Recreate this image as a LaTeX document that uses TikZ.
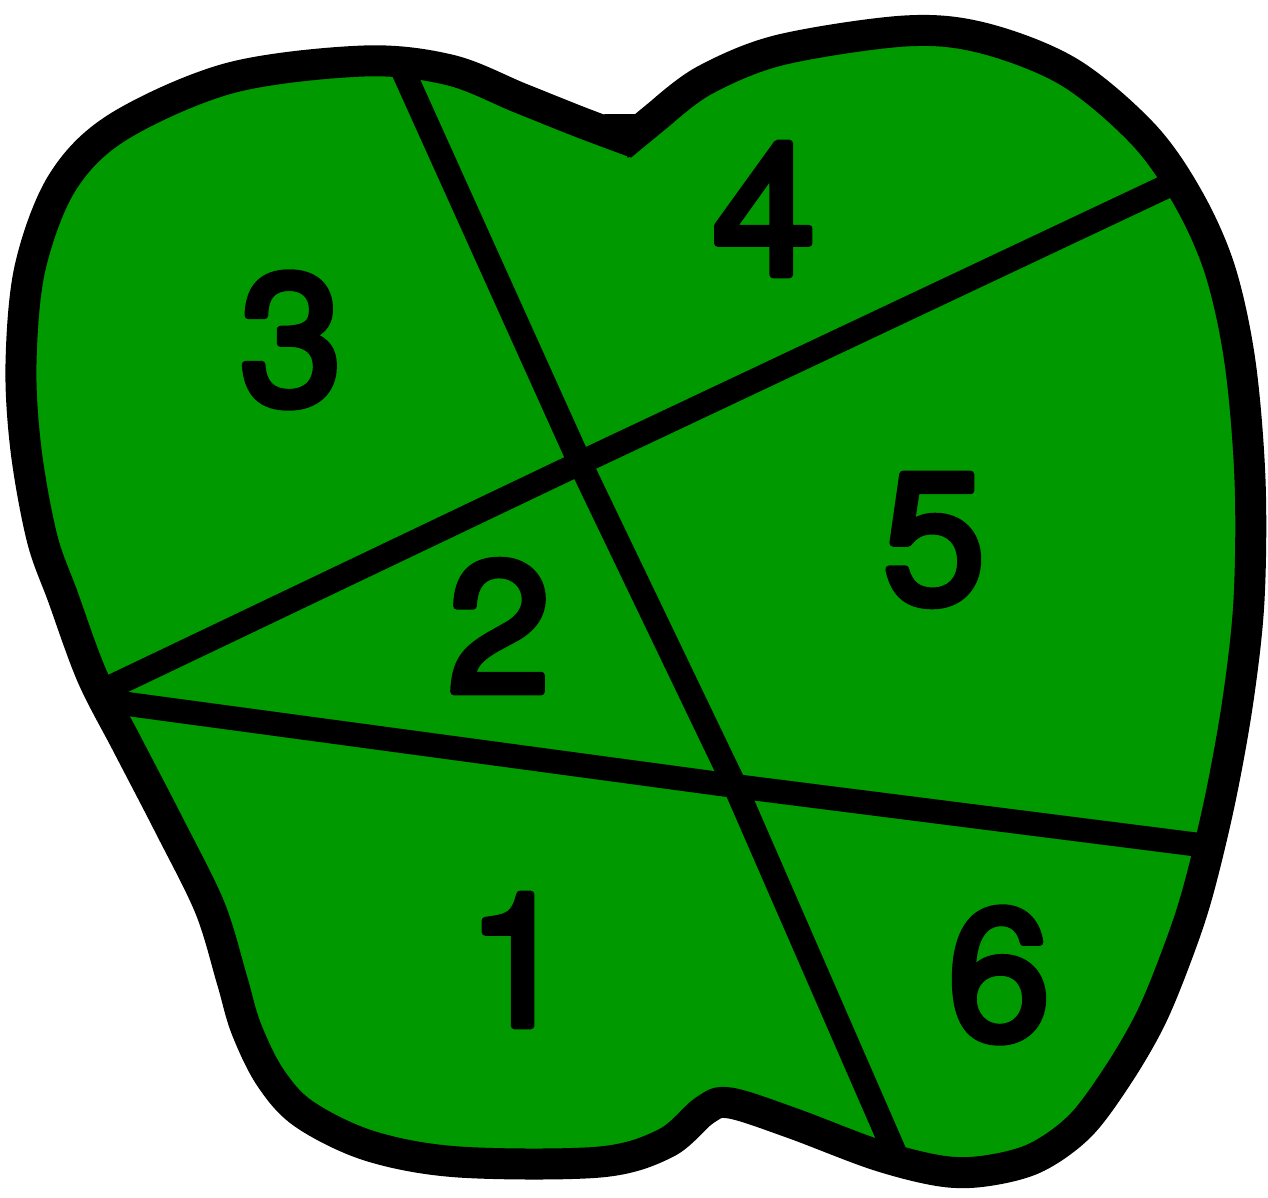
\documentclass[tikz,border=0pt]{standalone}
\usepackage{fontspec}
\setmainfont{TeX Gyre Heros}
\newfontfamily\numfont[FakeBold=4]{TeX Gyre Heros}
\definecolor{leaf}{RGB}{0,153,0}
\begin{document}
\begin{tikzpicture}[x=1pt,y=-1pt,
  num/.style={font=\numfont\fontsize{185}{185}\selectfont, inner sep=0pt, text=black, line join=round, line cap=round},
  divider/.style={line width=24pt, black, line join=round},
  rim/.style={line width=31pt, black, line join=miter}]
\useasboundingbox (0,0) rectangle (1268,1197);
\def\apple{(628,140) -- plot[smooth, tension=0.55] coordinates {
 (662,112) (705,80) (780,50) (905,31) (983,38) (1069,72) (1143,134) (1188,198)
 (1220,270) (1240,362) (1250,480) (1249,600) (1238,700) (1220,800) (1197,895)
 (1175,960) (1150,1020) (1118,1075) (1080,1126) (1035,1158) (985,1171) (941,1171)
 (877,1155) (792,1123) (730,1103) (705,1110) (666,1143) (600,1162) (459,1162)
 (370,1146) (304,1114) (270,1077) (246,1028) (232,980) (210,908) (170,827)
 (127,744) (92,676) (63,597) (42,538) (26,450) (21,364) (30,268) (62,183)
 (118,127) (230,78) (364,61) (450,70) (520,98) (580,122) (628,140)} -- cycle}
% dividing line end points and crossings
\coordinate (aTop) at (400,64);
\coordinate (xAB) at (580,463);
\coordinate (xAC) at (735,786);
\coordinate (aBot) at (898,1160);
\coordinate (bL) at (98,693);
\coordinate (bR) at (1180,180);
\coordinate (cL) at (98,700);
\coordinate (cR) at (1208,846);
% green body
\fill[leaf] \apple;
% dividing lines
\draw[divider] (aTop) -- (xAB) -- (xAC) -- (aBot);
\draw[divider] (bL) -- (xAB) -- (bR);
\draw[divider] (cL) -- (xAC) -- (cR);
% black rim and the notch at the top
\draw[rim] \apple;
\fill[black] (604,114) -- (652,114) -- (628,158) -- cycle;
% numbers
\node[num] (n3) at (291,340) {3};
\node[num] (n4) at (764,209) {4};
\node[num] (n2) at (499,626) {2};
\node[num] (n5) at (934,540) {5};
\node[num] (n1) at (518,960) {1};
\node[num] (n6) at (999,975) {6};
\end{tikzpicture}
\end{document}
